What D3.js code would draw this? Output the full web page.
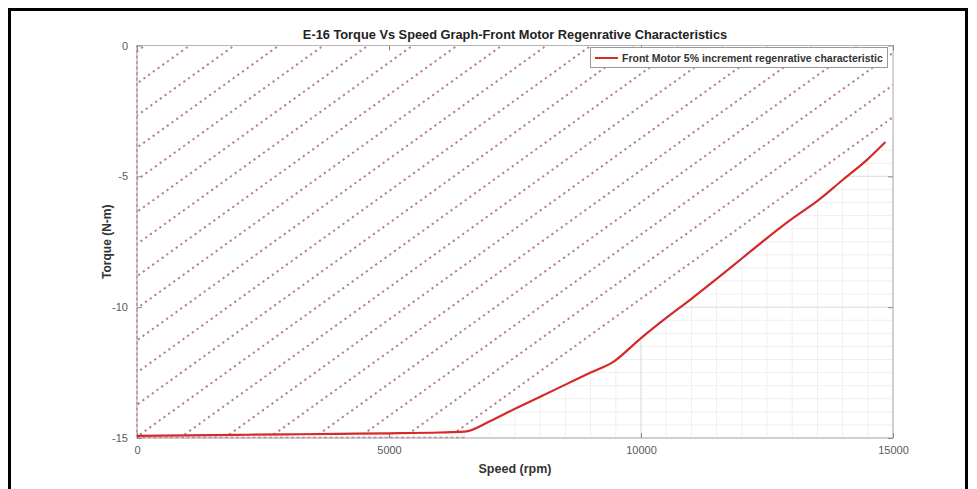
<!DOCTYPE html>
<html>
<head>
<meta charset="utf-8">
<script src="https://cdn.jsdelivr.net/npm/d3@7/dist/d3.min.js"></script>
<style>
  body { margin: 0; background: #fff; }
  text { font-family: "Liberation Sans", Arial, Helvetica, sans-serif; }
</style>
</head>
<body>
<div id="chart"></div>
<script>
// Regenerative torque curve (speed in rpm, torque in N-m)
const speedRpm = [0, 1000, 2000, 3000, 4000, 5000, 6000, 6500, 7000, 7500, 8000, 8500, 9000, 9450,
    10000, 10500, 11000, 11500, 12000, 12500, 13000, 13500, 14000, 14500, 14850];
const torqueNm = [-14.92, -14.9, -14.88, -14.86, -14.84, -14.82, -14.79, -14.76, -14.36, -13.88, -13.42,
    -12.96, -12.5, -12.09, -11.18, -10.41, -9.68, -8.92, -8.14, -7.36, -6.62, -5.94, -5.14, -4.34, -3.69];

const xTicks = [0, 5000, 10000, 15000];
const yTicks = [0, -5, -10, -15];

// hatch lines of the operating region: speed where each line meets 0 N-m
const hatchTopSpeed = [160, 1045, 1930, 2815, 3700, 4585, 5470, 6355, 7240, 8125, 9010, 9895,
    10780, 11665, 12550, 13435, 14320, 15205, 16090, 16975];
const hatchSlope = 0.001387; // N-m per rpm

const legendLabel = "Front Motor 5% increment regenrative characteristic";

const width = 977;
const height = 489;

const svg = d3.select("#chart").append("svg")
    .attr("width", width).attr("height", height);

const x = d3.scaleLinear().domain([0, 15000]).range([137, 893]);
const y = d3.scaleLinear().domain([-15, 0]).range([438, 45.5]);

const fmt = d => String(d); // plain hyphen minus, like MATLAB

// outer black frame
svg.append("rect")
    .attr("x", 9.5).attr("y", 9.5)
    .attr("width", 957).attr("height", 495)
    .attr("fill", "none").attr("stroke", "#000").attr("stroke-width", 3);

// grid (minor + major)
const grid = svg.append("g");
grid.selectAll(".vminor").data(d3.range(0, 15001, 500)).enter().append("line")
    .attr("x1", d => x(d)).attr("x2", d => x(d))
    .attr("y1", y(-15)).attr("y2", y(0))
    .attr("stroke", "#efefef").attr("stroke-width", 1);
grid.selectAll(".hminor").data(d3.range(-15, 0.01, 0.5)).enter().append("line")
    .attr("x1", x(0)).attr("x2", x(15000))
    .attr("y1", d => y(d)).attr("y2", d => y(d))
    .attr("stroke", "#efefef").attr("stroke-width", 1);
grid.selectAll(".vmajor").data(xTicks).enter().append("line")
    .attr("x1", d => x(d)).attr("x2", d => x(d))
    .attr("y1", y(-15)).attr("y2", y(0))
    .attr("stroke", "#e0e0e0").attr("stroke-width", 1);
grid.selectAll(".hmajor").data(yTicks).enter().append("line")
    .attr("x1", x(0)).attr("x2", x(15000))
    .attr("y1", d => y(d)).attr("y2", d => y(d))
    .attr("stroke", "#e0e0e0").attr("stroke-width", 1);

// operating region: area above the torque curve
const regionPts = [[0, 0], [0, -15]]
    .concat(speedRpm.map((s, i) => [s, torqueNm[i]]))
    .concat([[15000, torqueNm[torqueNm.length - 1]], [15000, 0]]);
const regionPath = d3.line().x(d => x(d[0])).y(d => y(d[1]))(regionPts) + "Z";

// white patch face hides the grid under the hatching
svg.append("path").attr("d", regionPath).attr("fill", "#fff");

svg.append("clipPath").attr("id", "region")
    .append("path").attr("d", regionPath);

const hatch = svg.append("g").attr("clip-path", "url(#region)");
hatch.selectAll("line").data(hatchTopSpeed).enter().append("line")
    .attr("x1", d => x(d - 15 / hatchSlope)).attr("y1", y(-15))
    .attr("x2", d => x(d)).attr("y2", y(0))
    .attr("stroke", "#b98089")
    .attr("stroke-width", 2)
    .attr("stroke-dasharray", "2.2,3.6");

// patch edges (dashed red) on left and bottom
svg.append("line")
    .attr("x1", x(0)).attr("x2", x(0)).attr("y1", y(-15)).attr("y2", y(0))
    .attr("stroke", "#d06a78").attr("stroke-width", 1.6).attr("stroke-dasharray", "3,2.5");
svg.append("line")
    .attr("x1", x(0)).attr("x2", x(6500)).attr("y1", y(-15) - 0.5).attr("y2", y(-15) - 0.5)
    .attr("stroke", "#d06a78").attr("stroke-width", 1.6).attr("stroke-dasharray", "3,2.5");

// axes box
svg.append("rect")
    .attr("x", x(0)).attr("y", y(0))
    .attr("width", x(15000) - x(0)).attr("height", y(-15) - y(0))
    .attr("fill", "none").attr("stroke", "#b5b5b5").attr("stroke-width", 1);

// axes with inward ticks
const axisColor = "#8a8a8a";
function styleAxis(g) {
    g.select(".domain").remove();
    g.selectAll(".tick line").attr("stroke", axisColor);
    g.selectAll(".tick text").attr("fill", "#5a5a5a").style("font-size", "11px")
        .style("font-family", "'Liberation Sans', Arial, sans-serif");
}
svg.append("g")
    .attr("transform", `translate(0,${y(-15)})`)
    .call(d3.axisBottom(x).tickValues(xTicks).tickSize(-5).tickPadding(8).tickFormat(fmt))
    .call(styleAxis);
svg.append("g")
    .attr("transform", `translate(0,${y(0)})`)
    .call(d3.axisTop(x).tickValues(xTicks).tickSize(-5).tickFormat(""))
    .call(styleAxis);
svg.append("g")
    .attr("transform", `translate(${x(0)},0)`)
    .call(d3.axisLeft(y).tickValues(yTicks).tickSize(-5).tickPadding(9).tickFormat(fmt))
    .call(styleAxis);
svg.append("g")
    .attr("transform", `translate(${x(15000)},0)`)
    .call(d3.axisRight(y).tickValues(yTicks).tickSize(-5).tickFormat(""))
    .call(styleAxis);

// torque curve
svg.append("path")
    .datum(speedRpm.map((s, i) => [s, torqueNm[i]]))
    .attr("fill", "none")
    .attr("stroke", "#d42a2a")
    .attr("stroke-width", 2.2)
    .attr("stroke-linejoin", "round")
    .attr("d", d3.line().curve(d3.curveMonotoneX).x(d => x(d[0])).y(d => y(d[1])));

// title and labels
svg.append("text")
    .attr("x", (x(0) + x(15000)) / 2).attr("y", 39)
    .attr("text-anchor", "middle")
    .style("font-size", "12.8px").style("font-weight", "bold").attr("fill", "#222")
    .text("E-16 Torque Vs Speed Graph-Front Motor Regenrative Characteristics");

svg.append("text")
    .attr("x", (x(0) + x(15000)) / 2).attr("y", 473)
    .attr("text-anchor", "middle")
    .style("font-size", "12.5px").style("font-weight", "bold").attr("fill", "#333")
    .text("Speed (rpm)");

svg.append("text")
    .attr("transform", `translate(111,${(y(0) + y(-15)) / 2}) rotate(-90)`)
    .attr("text-anchor", "middle")
    .style("font-size", "12px").style("font-weight", "bold").attr("fill", "#333")
    .text("Torque (N-m)");

// legend
const legend = svg.append("g");
legend.append("rect")
    .attr("x", 590.5).attr("y", 47.5).attr("width", 297).attr("height", 20)
    .attr("fill", "#fff").attr("stroke", "#9a9a9a").attr("stroke-width", 1);
legend.append("line")
    .attr("x1", 595).attr("x2", 618).attr("y1", 58).attr("y2", 58)
    .attr("stroke", "#d42a2a").attr("stroke-width", 2);
legend.append("text")
    .attr("x", 622).attr("y", 61.5)
    .style("font-size", "10.5px").style("font-weight", "bold").attr("fill", "#333")
    .text(legendLabel);
</script>
</body>
</html>
